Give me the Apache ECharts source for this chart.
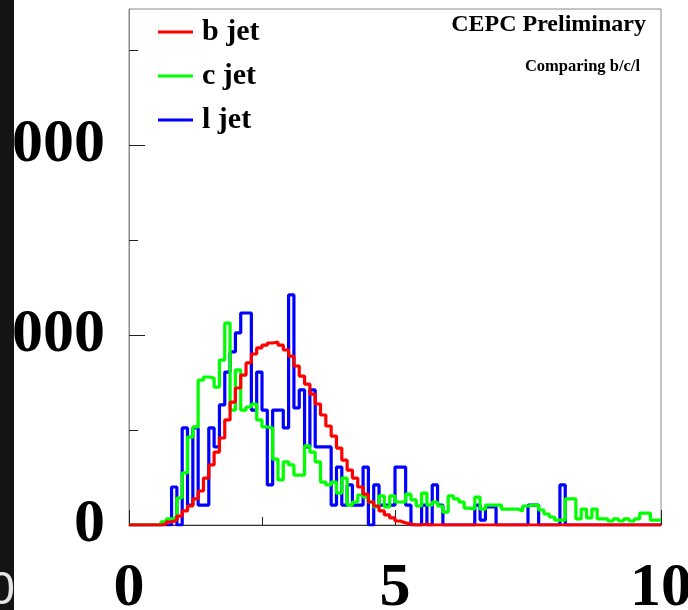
<!DOCTYPE html>
<html>
<head>
<meta charset="utf-8">
<script src="https://cdn.jsdelivr.net/npm/echarts@6/dist/echarts.min.js"></script>
<style>
html,body{margin:0;padding:0;background:#fff;}
#chart{width:688px;height:610px;}
</style>
</head>
<body>
<div id="chart"></div>
<script>
// ---- data (counts per bin, 100 bins of width 0.1 from 0 to 10) ----
const binWidth = 0.1;
const xMin = 0, xMax = 10;
const yMax = 2716;
const seriesNames = ['b jet', 'c jet', 'l jet'];
const xTickLabels = ['0', '5', '10'];
const yMajorTicks = [0, 1000, 2000];
const yMinorTicks = [500, 1500, 2500];

const bJet = [0,0,0,0,0,0,5,16,26,47,
  74,100,137,179,247,316,384,458,553,647,
  721,789,853,900,932,947,958,963,947,921,
  889,837,784,742,689,637,579,521,468,405,
  342,289,247,200,163,121,100,74,53,37,
  21,11,5,0,0,3,0,0,0,0,
  0,0,0,0,0,0,0,0,0,0,
  0,0,0,0,0,0,0,0,0,0,
  0,0,0,0,0,0,0,0,0,0,
  0,0,0,0,0,0,0,0,0,0];

const cJet = [0,0,0,0,0,0,16,32,42,142,
  274,463,516,763,779,774,726,868,1063,605,
  816,605,621,637,553,516,511,347,237,332,
  316,263,263,416,384,332,226,211,226,168,
  247,105,121,158,147,121,95,153,95,153,
  121,121,163,132,100,168,105,121,100,68,
  153,137,121,89,84,147,84,105,105,105,
  84,84,84,74,100,105,105,79,58,42,
  26,26,137,137,32,84,37,84,32,32,
  21,32,21,32,21,32,63,63,26,26];

const lJet = [0,0,0,0,0,0,0,0,200,0,
  511,105,511,105,105,511,411,632,805,911,
  1011,1116,1116,605,805,605,211,605,605,511,
  1211,616,711,411,711,411,411,411,105,305,
  105,211,105,105,305,0,211,105,105,105,
  305,305,105,0,0,105,0,211,105,0,
  0,0,0,0,0,105,26,95,95,0,
  0,0,0,0,0,105,105,0,0,0,
  0,211,0,0,0,0,0,0,0,0,
  0,0,0,0,0,0,0,0,0,0];

function toSteps(vals) {
  const pts = vals.map((v, i) => [Math.round(i * binWidth * 100) / 100, v]);
  pts.push([xMax, vals[vals.length - 1]]);
  return pts;
}

const serifBold = { fontFamily: 'Liberation Serif', fontWeight: 'bold', color: '#000' };

const chart = echarts.init(document.getElementById('chart'), null, { renderer: 'canvas' });
const option = {
  animation: false,
  backgroundColor: '#ffffff',
  grid: {
    left: 129, top: 9, right: 27, bottom: 85,
    show: true, borderColor: '#8a8a8a', borderWidth: 1, backgroundColor: '#fff',
    containLabel: false, outerBoundsMode: 'none'
  },
  legend: {
    orient: 'vertical',
    left: 153, top: 12,
    data: seriesNames,
    icon: 'rect',
    itemWidth: 35, itemHeight: 3,
    itemGap: 14,
    textStyle: Object.assign({ fontSize: 30, lineHeight: 30, padding: [0, 0, 0, 4] }, serifBold)
  },
  xAxis: {
    type: 'value', min: xMin, max: xMax, interval: 5,
    axisLine: { show: true, lineStyle: { color: '#333', width: 1 } },
    axisTick: { show: true, inside: true, length: 15, lineStyle: { color: '#222' } },
    minorTick: { show: true, splitNumber: 2, length: 8, lineStyle: { color: '#222' } },
    splitLine: { show: false },
    axisLabel: Object.assign({ fontSize: 62, margin: 33, formatter: v => xTickLabels.includes(String(v)) ? String(v) : '' }, serifBold)
  },
  yAxis: [{
    type: 'value', min: 0, max: yMax,
    axisLine: { show: true, lineStyle: { color: '#8a8a8a', width: 1 } },
    axisTick: { show: true, inside: true, length: 16, customValues: yMajorTicks, lineStyle: { color: '#222' } },
    splitLine: { show: false },
    axisLabel: Object.assign({ fontSize: 62, margin: 24, customValues: yMajorTicks }, serifBold)
  }, {
    type: 'value', min: 0, max: yMax, position: 'left',
    axisLine: { show: false },
    axisTick: { show: true, inside: true, length: 9, customValues: yMinorTicks, lineStyle: { color: '#222' } },
    splitLine: { show: false },
    axisLabel: { show: false }
  }],
  series: [
    { name: 'l jet', type: 'line', step: 'end', data: toSteps(lJet), showSymbol: false, color: '#0000ff',
      lineStyle: { color: '#0000ff', width: 3.2 }, yAxisIndex: 0, z: 2 },
    { name: 'c jet', type: 'line', step: 'end', data: toSteps(cJet), showSymbol: false, color: '#00ff00',
      lineStyle: { color: '#00ff00', width: 3.2 }, yAxisIndex: 0, z: 3 },
    { name: 'b jet', type: 'line', step: 'end', data: toSteps(bJet), showSymbol: false, color: '#ff0000',
      lineStyle: { color: '#ff0000', width: 3.2 }, yAxisIndex: 0, z: 4 }
  ],
  graphic: [
    { type: 'rect', z: 100, shape: { x: 0, y: 0, width: 14, height: 610 }, style: { fill: '#141414' } },
    { type: 'text', z: 101, x: 15, y: 591,
      style: { text: '0', font: 'normal 47px "Liberation Sans"', fill: '#e6e6e6',
        align: 'right', verticalAlign: 'middle', textAlign: 'right', textVerticalAlign: 'middle' } },
    { type: 'text', z: 50, x: 646, y: 25,
      style: { text: 'CEPC Preliminary', font: 'bold 24px "Liberation Serif"', fill: '#000',
        align: 'right', verticalAlign: 'middle', textAlign: 'right', textVerticalAlign: 'middle' } },
    { type: 'text', z: 50, x: 640, y: 67,
      style: { text: 'Comparing b/c/l', font: 'bold 16.5px "Liberation Serif"', fill: '#000',
        align: 'right', verticalAlign: 'middle', textAlign: 'right', textVerticalAlign: 'middle' } }
  ]
};
chart.setOption(option);
</script>
</body>
</html>
